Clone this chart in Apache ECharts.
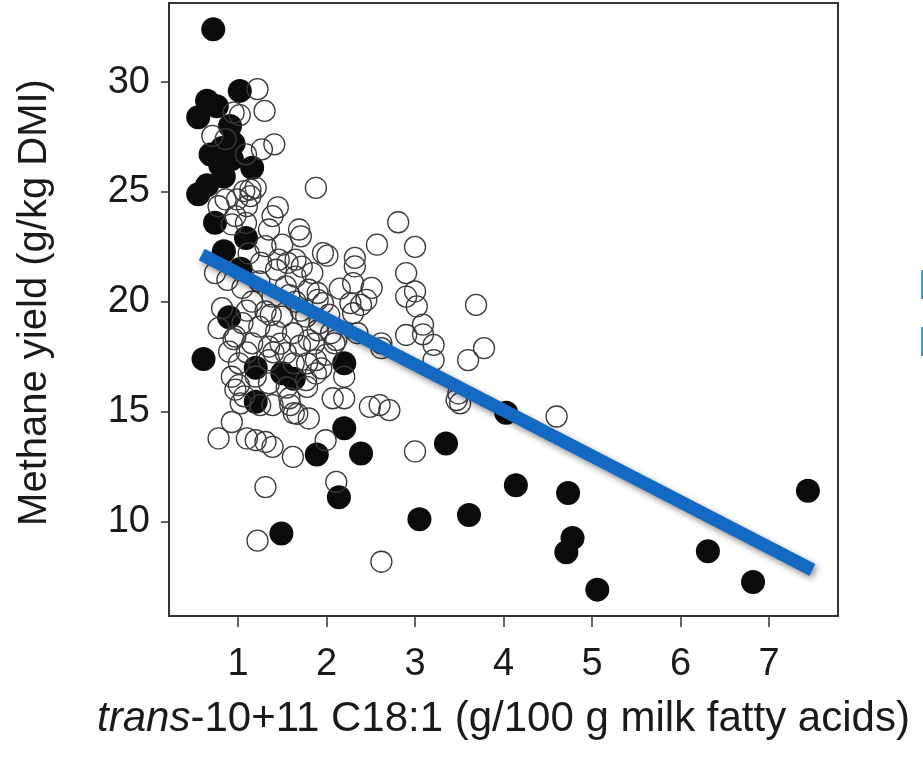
<!DOCTYPE html>
<html>
<head>
<meta charset="utf-8">
<script src="https://cdn.jsdelivr.net/npm/echarts@6/dist/echarts.min.js"></script>
<style>
  html, body { margin: 0; padding: 0; background: #fff; }
  #methaneChart { width: 923px; height: 763px; }
</style>
</head>
<body>
<div id="methaneChart"></div>
<script>
// tick labels
const xTicks = [1, 2, 3, 4, 5, 6, 7];
const yTicks = [10, 15, 20, 25, 30];

// filled dots (one group of cows)
const filledPoints = [
  [0.72, 32.4], [1.02, 29.6], [0.65, 29.15], [0.76, 28.9], [0.55, 28.4],
  [0.91, 28.0], [0.95, 27.2], [0.69, 26.7], [0.82, 27.0], [0.93, 26.5],
  [1.16, 26.1], [0.80, 26.2], [0.84, 25.7], [0.65, 25.3], [0.55, 24.9],
  [0.74, 23.6], [1.09, 22.9], [0.84, 22.3], [1.03, 21.5], [0.90, 19.3],
  [0.61, 17.4], [1.20, 17.0], [1.50, 16.75], [1.63, 16.5], [2.20, 17.2],
  [1.20, 15.45], [2.20, 14.25], [1.89, 13.05], [2.39, 13.1], [3.35, 13.55],
  [2.14, 11.1], [1.49, 9.45], [3.05, 10.1], [4.03, 14.95], [4.14, 11.65],
  [3.61, 10.3], [4.73, 11.3], [4.78, 9.25], [4.71, 8.6], [5.06, 6.9],
  [6.31, 8.65], [6.82, 7.25], [7.44, 11.4]
];

// open circles
const openPoints = [
  [1.22, 29.68], [1.30, 28.69], [0.95, 28.61], [0.71, 27.55], [1.27, 26.94],
  [1.41, 27.17], [1.09, 26.71], [1.88, 25.19], [1.20, 25.19], [1.07, 25.04],
  [0.86, 24.66], [0.99, 24.66], [1.14, 24.81], [0.78, 24.35], [1.10, 24.35],
  [1.39, 23.90], [0.97, 23.90], [1.09, 23.59], [0.93, 23.52], [1.69, 23.29],
  [1.71, 22.98], [1.35, 23.29], [1.50, 22.60], [1.31, 22.53], [1.96, 22.22],
  [1.65, 21.92], [1.46, 21.92], [1.26, 21.77], [1.43, 21.46], [1.84, 21.31],
  [1.65, 21.15], [0.74, 21.31], [0.88, 21.00], [1.24, 20.93], [1.54, 20.70],
  [1.80, 20.55], [1.05, 20.63], [1.39, 20.24], [1.65, 20.01], [1.90, 20.09],
  [1.16, 20.01], [0.82, 19.71], [1.31, 19.56], [1.50, 19.33], [1.77, 19.33],
  [1.05, 19.03], [1.24, 18.87], [1.92, 19.03], [1.43, 18.64], [1.62, 18.57],
  [0.97, 18.42], [1.80, 18.26], [1.16, 18.11], [1.35, 17.96], [0.90, 17.73],
  [1.54, 17.66], [1.88, 17.35], [1.01, 17.20], [1.35, 17.35], [0.93, 16.59],
  [1.77, 16.44], [1.88, 16.74], [1.35, 16.29], [1.01, 16.21], [1.03, 15.38],
  [1.39, 15.30], [1.58, 15.61], [1.63, 14.93], [1.80, 14.69], [0.93, 14.53],
  [0.78, 13.78], [1.10, 13.78], [1.20, 13.70], [1.31, 13.62], [1.39, 13.40],
  [1.62, 12.94], [1.31, 11.57], [1.22, 9.13], [1.99, 13.70], [2.11, 11.80],
  [2.62, 8.17], [3.00, 13.19], [2.07, 15.61], [2.20, 15.61], [2.20, 16.59],
  [2.49, 15.22], [2.60, 15.30], [2.71, 15.07], [1.94, 16.97], [1.78, 16.13],
  [2.09, 18.11], [2.05, 18.57], [2.35, 18.57], [2.62, 17.89], [2.90, 18.49],
  [3.09, 18.96], [3.09, 18.52], [3.21, 18.04], [3.21, 17.35], [3.47, 15.53],
  [3.02, 19.79], [2.39, 19.86], [2.30, 19.48], [2.81, 23.62], [2.57, 22.60],
  [3.00, 22.50], [2.01, 22.10], [2.32, 22.00], [2.32, 21.61], [2.90, 21.31],
  [2.30, 20.85], [2.51, 20.63], [3.00, 20.47], [2.90, 20.24], [3.69, 19.86],
  [2.03, 19.41], [3.60, 17.35], [3.78, 17.89], [2.62, 18.11], [2.11, 18.26],
  [3.49, 15.83], [3.51, 15.38], [4.60, 14.78], [1.96, 19.94], [2.27, 19.94],
  [2.45, 20.09], [1.56, 21.77], [1.90, 20.40], [1.78, 17.20], [0.97, 16.00],
  [1.07, 15.70], [1.25, 15.30], [1.59, 15.30], [1.67, 14.90], [0.78, 18.80],
  [0.95, 18.30], [1.10, 17.70], [1.40, 17.70], [1.63, 17.20], [1.86, 18.10],
  [1.90, 18.70], [1.71, 19.60], [1.37, 19.40], [1.10, 19.60], [1.02, 28.50],
  [0.86, 27.40], [1.14, 25.11], [1.58, 20.30], [1.72, 21.60], [2.15, 20.60],
  [1.48, 18.10], [1.70, 18.00], [2.00, 17.60], [1.20, 16.60], [1.55, 16.10],
  [1.12, 22.20], [1.45, 24.30]
];

// fitted regression line ends
const fitLine = [[0.59, 22.15], [7.49, 7.8]];

const yTitle = "Methane yield (g/kg DMI)";
const xTitle = "{i|trans}-10+11 C18:1 (g/100 g milk fatty acids)";

const textFont = "Liberation Sans";

const option = {
  backgroundColor: "#ffffff",
  animation: false,
  grid: {
    left: 169,
    right: 85,
    top: 3,
    bottom: 147,
    show: true,
    borderColor: "#333",
    borderWidth: 2,
    outerBoundsMode: "none",
  },
  xAxis: {
    type: "value",
    min: 0.22,
    max: 7.78,
    axisLine: { show: true, onZero: false, lineStyle: { color: "#333", width: 2 } },
    axisTick: { show: true, length: 11, customValues: xTicks, lineStyle: { color: "#333", width: 1.5 } },
    axisLabel: { customValues: xTicks, fontSize: 38, fontFamily: textFont, color: "#1a1a1a", margin: 30 },
    splitLine: { show: false },
    name: xTitle,
    nameLocation: "middle",
    nameGap: 82,
    nameTextStyle: {
      fontSize: 42,
      fontFamily: textFont,
      color: "#1a1a1a",
      rich: { i: { fontStyle: "italic", fontSize: 42, fontFamily: textFont, color: "#1a1a1a" } },
    },
  },
  yAxis: {
    type: "value",
    min: 5.7,
    max: 33.6,
    axisLine: { show: true, onZero: false, lineStyle: { color: "#333", width: 2 } },
    axisTick: { show: true, length: 8, customValues: yTicks, lineStyle: { color: "#333", width: 1.5 } },
    axisLabel: { customValues: yTicks, fontSize: 38, fontFamily: textFont, color: "#1a1a1a", margin: 19 },
    splitLine: { show: false },
    name: yTitle,
    nameLocation: "middle",
    nameRotate: 90,
    nameGap: 114,
    nameTextStyle: { fontSize: 40, fontFamily: textFont, color: "#1a1a1a", padding: [0, 0, 0, 14] },
  },
  graphic: [
    { type: "rect", shape: { x: 921, y: 270, width: 2, height: 29 }, style: { fill: "#3d9be0" } },
    { type: "rect", shape: { x: 921, y: 327, width: 2, height: 29 }, style: { fill: "#3d9be0" } },
  ],
  series: [
    {
      name: "filled",
      type: "scatter",
      symbol: "circle",
      symbolSize: 24,
      itemStyle: { color: "#0b0b0b", opacity: 1 },
      data: filledPoints,
    },
    {
      name: "open",
      type: "scatter",
      symbol: "circle",
      symbolSize: 21,
      itemStyle: { color: "rgba(0,0,0,0)", borderColor: "#3a3a3a", borderWidth: 1.3, opacity: 1 },
      data: openPoints,
    },
    {
      name: "fit",
      type: "line",
      symbol: "none",
      z: 5,
      lineStyle: {
        color: "#1469c2",
        width: 13,
        shadowColor: "rgba(0,0,0,0.45)",
        shadowBlur: 6,
        shadowOffsetX: 2,
        shadowOffsetY: 3,
      },
      data: fitLine,
    },
  ],
};

const chart = echarts.init(document.getElementById("methaneChart"));
chart.setOption(option);
</script>
</body>
</html>
